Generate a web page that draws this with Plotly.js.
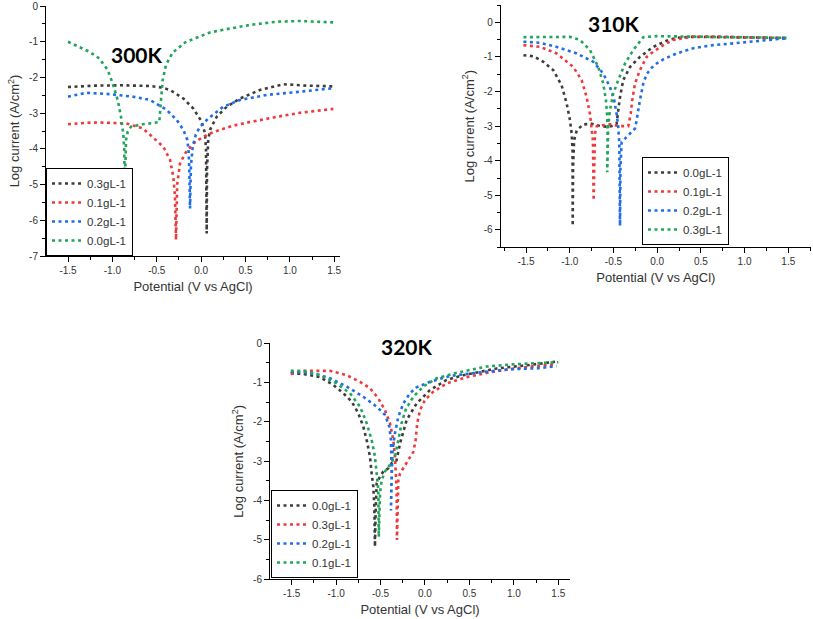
<!DOCTYPE html>
<html>
<head>
<meta charset="utf-8">
<script src="https://cdn.plot.ly/plotly-3.0.1.min.js"></script>
<style>html,body{margin:0;padding:0;background:#fff;}#chart{width:813px;height:619px;}</style>
</head>
<body>
<div id="chart"></div>
<script>
// ---------- 300K ----------
const x300_03 = [-1.5, -1.2, -0.9, -0.576, -0.45, -0.35, -0.2, -0.088, 0.007, 0.044, 0.055, 0.06, 0.063, 0.066, 0.08, 0.1, 0.176, 0.289, 0.438, 0.664, 0.926, 1.19, 1.453, 1.49];
const y300_03 = [-2.27, -2.23, -2.22, -2.24, -2.28, -2.35, -2.59, -2.87, -3.24, -3.57, -4.03, -5.0, -6.37, -4.6, -3.75, -3.47, -3.1, -2.82, -2.59, -2.35, -2.19, -2.23, -2.24, -2.25];
const x300_01 = [-1.5, -1.3, -1.143, -0.842, -0.654, -0.576, -0.504, -0.426, -0.35, -0.313, -0.295, -0.283, -0.27, -0.238, -0.181, -0.088, 0.023, 0.1, 0.21, 0.363, 0.549, 0.739, 0.925, 1.115, 1.3, 1.49];
const y300_01 = [-3.31, -3.27, -3.26, -3.29, -3.43, -3.61, -3.75, -3.94, -4.31, -4.78, -5.3, -6.55, -5.0, -4.41, -4.13, -3.85, -3.66, -3.57, -3.47, -3.35, -3.25, -3.15, -3.07, -2.99, -2.93, -2.88];
const x300_02 = [-1.5, -1.293, -1.068, -0.767, -0.576, -0.504, -0.388, -0.275, -0.2, -0.155, -0.14, -0.133, -0.125, -0.115, -0.095, -0.06, -0.012, 0.081, 0.25, 0.438, 0.739, 1.115, 1.472, 1.49];
const y300_02 = [-2.54, -2.43, -2.46, -2.54, -2.63, -2.73, -2.91, -3.19, -3.47, -3.75, -4.1, -4.6, -5.67, -4.5, -3.94, -3.6, -3.38, -3.15, -2.82, -2.63, -2.49, -2.4, -2.31, -2.3];
const x300_00 = [-1.5, -1.373, -1.26, -1.147, -1.053, -0.996, -0.94, -0.903, -0.877, -0.866, -0.864, -0.86, -0.855, -0.846, -0.827, -0.79, -0.753, -0.658, -0.545, -0.471, -0.452, -0.433, -0.396, -0.35, -0.32, -0.238, -0.207, -0.095, 0.1, 0.326, 0.551, 0.852, 1.115, 1.3, 1.49];
const y300_00 = [-1.0, -1.14, -1.28, -1.47, -1.79, -2.17, -2.63, -3.1, -3.57, -4.03, -4.96, -5.6, -4.6, -3.75, -3.52, -3.38, -3.36, -3.31, -3.28, -3.25, -2.63, -2.07, -1.65, -1.45, -1.3, -1.14, -1.05, -0.93, -0.74, -0.63, -0.53, -0.44, -0.42, -0.44, -0.46];

// ---------- 310K ----------
const x310_00 = [-1.53, -1.417, -1.303, -1.189, -1.093, -1.035, -0.997, -0.978, -0.968, -0.966, -0.962, -0.95, -0.92, -0.845, -0.75, -0.654, -0.55, -0.502, -0.464, -0.445, -0.425, -0.388, -0.311, -0.197, -0.1, -0.045, 0.109, 0.223, 0.4, 0.7, 1.0, 1.3, 1.48];
const y310_00 = [-0.95, -0.98, -1.14, -1.38, -1.82, -2.35, -2.83, -3.22, -3.7, -5.88, -4.2, -3.41, -3.12, -2.95, -2.93, -3.0, -3.02, -2.98, -2.93, -2.54, -2.16, -1.67, -1.29, -1.0, -0.8, -0.71, -0.53, -0.45, -0.42, -0.43, -0.44, -0.44, -0.45];
const x310_01 = [-1.53, -1.34, -1.15, -0.96, -0.864, -0.807, -0.769, -0.75, -0.735, -0.727, -0.72, -0.712, -0.69, -0.654, -0.54, -0.425, -0.33, -0.303, -0.285, -0.254, -0.197, -0.12, -0.045, 0.07, 0.184, 0.375, 0.7, 0.947, 1.2, 1.48];
const y310_01 = [-0.66, -0.71, -0.9, -1.29, -1.67, -2.16, -2.64, -3.03, -3.41, -5.15, -4.0, -3.22, -3.0, -2.98, -2.95, -3.0, -3.0, -2.64, -2.25, -1.77, -1.38, -1.0, -0.85, -0.66, -0.51, -0.42, -0.41, -0.42, -0.45, -0.47];
const x310_02 = [-1.53, -1.34, -1.15, -0.92, -0.731, -0.617, -0.54, -0.491, -0.464, -0.445, -0.433, -0.425, -0.42, -0.406, -0.368, -0.311, -0.254, -0.235, -0.215, -0.197, -0.159, -0.12, -0.07, -0.006, 0.07, 0.223, 0.413, 0.642, 0.947, 1.252, 1.481];
const y310_02 = [-0.56, -0.59, -0.71, -0.9, -1.14, -1.48, -1.87, -2.25, -2.64, -3.03, -3.51, -5.88, -4.2, -3.46, -3.36, -3.22, -3.07, -2.83, -2.5, -2.25, -1.77, -1.5, -1.33, -1.19, -1.07, -0.9, -0.75, -0.66, -0.59, -0.51, -0.46];
const x310_03 = [-1.53, -1.34, -1.1, -0.997, -0.883, -0.769, -0.674, -0.617, -0.586, -0.571, -0.567, -0.571, -0.56, -0.54, -0.502, -0.445, -0.368, -0.273, -0.159, -0.006, 0.3, 0.6, 0.9, 1.2, 1.48];
const y310_03 = [-0.43, -0.43, -0.42, -0.42, -0.51, -0.8, -1.29, -1.77, -2.25, -2.74, -3.22, -4.33, -3.0, -2.54, -2.06, -1.67, -1.19, -0.8, -0.43, -0.4, -0.42, -0.42, -0.43, -0.44, -0.45];

// ---------- 320K ----------
const x320_00 = [-1.51, -1.37, -1.181, -1.031, -0.919, -0.825, -0.75, -0.694, -0.656, -0.619, -0.6, -0.581, -0.57, -0.563, -0.555, -0.544, -0.506, -0.469, -0.413, -0.375, -0.319, -0.281, -0.206, -0.094, 0.056, 0.244, 0.431, 0.806, 1.181, 1.463];
const y320_00 = [-0.76, -0.78, -0.86, -1.06, -1.27, -1.48, -1.78, -2.12, -2.46, -2.88, -3.31, -3.65, -4.15, -5.17, -4.3, -3.56, -3.39, -3.26, -3.18, -3.05, -2.97, -2.54, -1.95, -1.53, -1.19, -0.93, -0.81, -0.64, -0.55, -0.47];
const x320_03 = [-1.51, -1.37, -1.069, -0.881, -0.731, -0.619, -0.525, -0.45, -0.394, -0.356, -0.338, -0.326, -0.319, -0.315, -0.305, -0.3, -0.281, -0.206, -0.131, -0.105, -0.087, -0.056, 0.0, 0.094, 0.244, 0.469, 0.769, 1.106, 1.481];
const y320_03 = [-0.78, -0.7, -0.7, -0.81, -0.98, -1.14, -1.4, -1.7, -2.03, -2.46, -2.88, -3.31, -3.73, -5.0, -4.2, -3.48, -3.31, -3.05, -2.76, -2.46, -2.03, -1.7, -1.44, -1.23, -1.02, -0.86, -0.72, -0.61, -0.53];
const x320_02 = [-1.51, -1.256, -1.069, -0.881, -0.694, -0.544, -0.45, -0.401, -0.383, -0.375, -0.375, -0.38, -0.383, -0.372, -0.364, -0.338, -0.3, -0.244, -0.169, -0.094, 0.056, 0.281, 0.581, 0.956, 1.294, 1.481];
const y320_02 = [-0.72, -0.76, -0.89, -1.1, -1.36, -1.61, -1.82, -2.12, -2.46, -2.88, -3.31, -3.8, -4.25, -3.2, -2.71, -2.29, -1.87, -1.53, -1.27, -1.12, -0.98, -0.83, -0.75, -0.66, -0.63, -0.58];
const x320_01 = [-1.51, -1.37, -1.181, -0.994, -0.844, -0.731, -0.656, -0.6, -0.563, -0.544, -0.525, -0.52, -0.514, -0.505, -0.487, -0.45, -0.394, -0.338, -0.3, -0.263, -0.206, -0.188, -0.131, -0.019, 0.131, 0.356, 0.694, 1.031, 1.406, 1.5];
const y320_01 = [-0.7, -0.7, -0.81, -1.02, -1.27, -1.61, -2.03, -2.46, -2.88, -3.31, -3.73, -4.92, -4.3, -3.8, -3.48, -3.26, -3.09, -2.88, -2.46, -2.03, -1.61, -1.57, -1.36, -1.1, -0.89, -0.75, -0.59, -0.53, -0.49, -0.48];

// tick labels
const xTickVals = [-1.5, -1.0, -0.5, 0.0, 0.5, 1.0, 1.5];
const xTickText = ["-1.5", "-1.0", "-0.5", "0.0", "0.5", "1.0", "1.5"];
const yTickVals7 = [0, -1, -2, -3, -4, -5, -6, -7];
const yTickText7 = ["0", "-1", "-2", "-3", "-4", "-5", "-6", "-7"];
const yTickVals6 = [0, -1, -2, -3, -4, -5, -6];
const yTickText6 = ["0", "-1", "-2", "-3", "-4", "-5", "-6"];

const panelTitles = ["300K", "310K", "320K"];
const legend300 = ["0.3gL-1", "0.1gL-1", "0.2gL-1", "0.0gL-1"];
const legend310 = ["0.0gL-1", "0.1gL-1", "0.2gL-1", "0.3gL-1"];
const legend320 = ["0.0gL-1", "0.3gL-1", "0.2gL-1", "0.1gL-1"];

const COLORS = ["#3d3d3d", "#ee3a3a", "#1f6ee6", "#21a55a"];
const FONT = "Liberation Sans, Arial, sans-serif";

function tr(x, y, name, ci, ax, leg) {
  return {
    x: x, y: y, name: name, type: "scatter", mode: "lines",
    xaxis: "x" + ax, yaxis: "y" + ax, legend: leg,
    line: {color: COLORS[ci], width: 2.6, dash: "3px,3.5px"}
  };
}

const data = [
  tr(x300_03, y300_03, legend300[0], 0, "", "legend"),
  tr(x300_01, y300_01, legend300[1], 1, "", "legend"),
  tr(x300_02, y300_02, legend300[2], 2, "", "legend"),
  tr(x300_00, y300_00, legend300[3], 3, "", "legend"),
  tr(x310_00, y310_00, legend310[0], 0, "2", "legend2"),
  tr(x310_01, y310_01, legend310[1], 1, "2", "legend2"),
  tr(x310_02, y310_02, legend310[2], 2, "2", "legend2"),
  tr(x310_03, y310_03, legend310[3], 3, "2", "legend2"),
  tr(x320_00, y320_00, legend320[0], 0, "3", "legend3"),
  tr(x320_03, y320_03, legend320[1], 1, "3", "legend3"),
  tr(x320_02, y320_02, legend320[2], 2, "3", "legend3"),
  tr(x320_01, y320_01, legend320[3], 3, "3", "legend3")
];

const W = 813, H = 619;
function xa(l, r, range, anchor) {
  return {
    domain: [l / W, r / W], range: range, anchor: anchor,
    showline: true, linecolor: "#000", linewidth: 1, mirror: false,
    showgrid: false, zeroline: false,
    ticks: "outside", ticklen: 5, tickwidth: 1, tickcolor: "#000",
    tickmode: "array", tickvals: xTickVals, ticktext: xTickText,
    tickfont: {family: FONT, size: 10, color: "#333"},
    minor: {tickmode: "linear", tick0: 0, dtick: 0.25, ticks: "outside", ticklen: 3, tickcolor: "#000", showgrid: false},
    title: {text: "Potential (V vs AgCl)", font: {family: FONT, size: 13, color: "#333"}, standoff: 6}
  };
}
function ya(b, t, range, anchor, vals, txt) {
  return {
    domain: [1 - b / H, 1 - t / H], range: range, anchor: anchor,
    showline: true, linecolor: "#000", linewidth: 1, mirror: false,
    showgrid: false, zeroline: false,
    ticks: "outside", ticklen: 5, tickwidth: 1, tickcolor: "#000",
    tickmode: "array", tickvals: vals, ticktext: txt,
    tickfont: {family: FONT, size: 10, color: "#333"},
    minor: {tickmode: "linear", tick0: 0, dtick: 0.5, ticks: "outside", ticklen: 3, tickcolor: "#000", showgrid: false},
    title: {text: "Log current (A/cm<sup>2</sup>)", font: {family: FONT, size: 13, color: "#333"}, standoff: 6}
  };
}
function leg(px, pyBottom) {
  return {
    x: px / W, y: 1 - pyBottom / H, xanchor: "left", yanchor: "bottom",
    bgcolor: "#fff", bordercolor: "#000", borderwidth: 1,
    font: {family: FONT, size: 11.5, color: "#333"},
    tracegroupgap: 0, itemwidth: 30, traceorder: "normal"
  };
}
function ann(text, px, py) {
  return {text: text, x: px / W, y: 1 - py / H, xref: "paper", yref: "paper",
    showarrow: false, xanchor: "center", yanchor: "middle",
    font: {family: "Lato, Open Sans, sans-serif", size: 21, color: "#000", weight: "bold"}};
}

const layout = {
  width: W, height: H,
  margin: {l: 0, r: 0, t: 0, b: 0},
  paper_bgcolor: "#fff", plot_bgcolor: "rgba(0,0,0,0)",
  showlegend: true,
  xaxis: xa(46, 340, [-1.748, 1.565], "y"),
  yaxis: ya(256, 6, [-7, 0], "x", yTickVals7, yTickText7),
  xaxis2: xa(500.7, 811, [-1.79, 1.76], "y2"),
  yaxis2: ya(247.3, 5, [-6.5, 0.5], "x2", yTickVals6, yTickText6),
  xaxis3: xa(270, 570, [-1.744, 1.632], "y3"),
  yaxis3: ya(579.3, 343.3, [-6, 0], "x3", yTickVals6, yTickText6),
  legend: leg(46, 256),
  legend2: leg(642, 245),
  legend3: leg(271, 578),
  annotations: [
    ann("<b>" + panelTitles[0] + "</b>", 137, 54),
    ann("<b>" + panelTitles[1] + "</b>", 614, 24),
    ann("<b>" + panelTitles[2] + "</b>", 407, 347)
  ]
};

Plotly.newPlot("chart", data, layout, {displayModeBar: false, staticPlot: true});
</script>
</body>
</html>
